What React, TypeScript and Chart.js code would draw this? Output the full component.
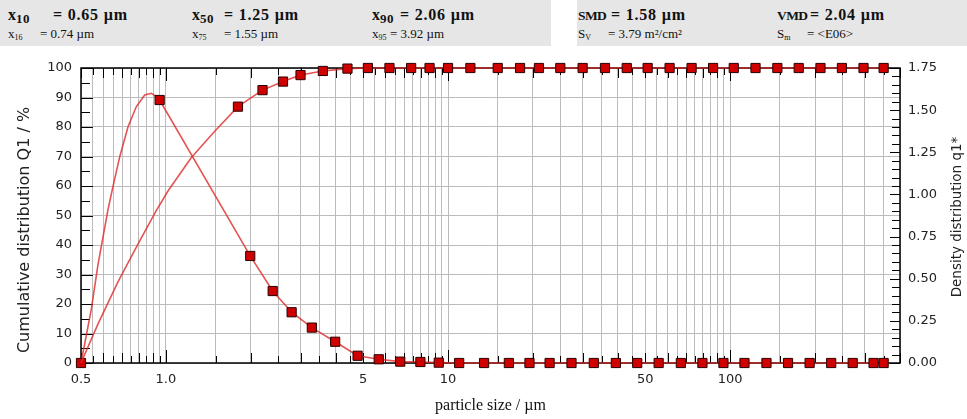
import React, { useEffect, useRef } from 'react';
import { Chart, registerables } from 'chart.js';
Chart.register(...registerables);

// ---- data ----
// upper class limits (µm) and cumulative distribution Q (%)
const classUpper = [1.8, 2.2, 2.6, 3.0, 3.6, 4.4, 5.2, 6.2, 7.4, 8.6, 10, 12, 15, 18, 21, 25, 30, 36, 43, 51, 61, 73, 87, 103, 123, 147, 175, 209, 249, 297, 350];
const cumulativeQ = [86.9, 92.5, 95.4, 97.6, 99.0, 99.8, 100, 100, 100, 100, 100, 100, 100, 100, 100, 100, 100, 100, 100, 100, 100, 100, 100, 100, 100, 100, 100, 100, 100, 100, 100];
// smooth cumulative curve in the first class (no markers)
const cumCurveX = [0.5, 0.574, 0.676, 0.796, 0.922, 1.017, 1.227, 1.481];
const cumCurveQ = [0, 13.2, 27.5, 40.3, 51.5, 58.3, 69.5, 78.3];
// density distribution markers (class mid points) and values
const densMarkX = [0.5, 0.95, 1.99, 2.39, 2.79, 3.29, 3.98, 4.78, 5.68, 6.77, 7.98, 9.27, 10.95, 13.42, 16.43, 19.44, 22.91, 27.39, 32.86, 39.34, 46.83, 55.79, 66.87, 79.75, 94.66, 112.4, 134.5, 160.4, 191.3, 228.1, 271.9, 322.4, 350];
const densMarkQ = [0, 1.56, 0.635, 0.427, 0.301, 0.21, 0.126, 0.043, 0.022, 0.008, 0.006, 0.002, 0, 0, 0, 0, 0, 0, 0, 0, 0, 0, 0, 0, 0, 0, 0, 0, 0, 0, 0, 0, 0];
// smooth density curve in the first class (no markers)
const densCurveX = [0.544, 0.574, 0.623, 0.649, 0.686, 0.734, 0.785, 0.841, 0.888, 0.925];
const densCurveQ = [0.32, 0.58, 0.908, 1.046, 1.224, 1.402, 1.52, 1.59, 1.6, 1.58];

const xTickLabels: [number, string][] = [[0.5, '0.5'], [1, '1.0'], [5, '5'], [10, '10'], [50, '50'], [100, '100']];

const headerRow1 = [
  ['x', '10', '= 0.65 µm'],
  ['x', '50', '= 1.25 µm'],
  ['x', '90', '= 2.06 µm'],
  ['SMD', '', '= 1.58 µm'],
  ['VMD', '', '= 2.04 µm'],
];
const headerRow2 = [
  ['x', '16', '= 0.74 µm'],
  ['x', '75', '= 1.55 µm'],
  ['x', '95', '= 3.92 µm'],
  ['S', 'V', '= 3.79 m²/cm²'],
  ['S', 'm', '= <E06>'],
];
const row1Pos = [[8, 53], [192, 224], [372, 400], [578, 611], [777, 810]];
const row2Pos = [[8, 40], [192, 224], [372, 390], [578, 608], [777, 807]];

const xGridValues: number[] = [];
for (let k = -1; k <= 2; k++) {
  for (let m = 2; m <= 20; m++) {
    const v = parseFloat((m * 0.5 * Math.pow(10, k)).toPrecision(6));
    if (v >= 0.5 && v <= 400 && !xGridValues.includes(v)) xGridValues.push(v);
  }
}
xGridValues.sort((a, b) => a - b);

const GRID = '#bcbcbc';
const LINE = 'rgba(222,40,40,0.8)';

function mantissa(v: number) {
  const e = Math.floor(Math.log10(v) + 1e-9);
  return v / Math.pow(10, e);
}

const framePlugin = {
  id: 'frame',
  beforeDatasetsDraw(chart: any) {
    const { ctx, chartArea, scales } = chart;
    const { left, right, top, bottom } = chartArea;
    ctx.save();
    ctx.strokeStyle = '#000';
    ctx.lineWidth = 1;
    ctx.beginPath();
    for (const v of xGridValues) {
      const px = Math.round(scales.x.getPixelForValue(v)) + 0.5;
      const m = mantissa(v);
      const isDec = Math.abs(m - 1) < 1e-6;
      const isInt = Math.abs(m - Math.round(m)) < 1e-6;
      const len = isDec ? 13 : isInt ? 10 : 7;
      ctx.moveTo(px, bottom);
      ctx.lineTo(px, bottom - len);
      ctx.moveTo(px, top);
      ctx.lineTo(px, top + len);
    }
    for (let q = 0; q <= 100; q += 5) {
      const py = Math.round(scales.y.getPixelForValue(q)) + 0.5;
      const len = q % 10 === 0 ? 12 : 9;
      ctx.moveTo(left, py);
      ctx.lineTo(left + len, py);
    }
    for (let i = 0; i <= 35; i++) {
      const py = Math.round(scales.y1.getPixelForValue(i * 0.05)) + 0.5;
      const len = i % 5 === 0 ? 10 : 8;
      ctx.moveTo(right, py);
      ctx.lineTo(right - len, py);
    }
    ctx.stroke();
    ctx.lineWidth = 1.5;
    ctx.strokeRect(left, top, right - left, bottom - top);
    ctx.restore();
  },
  afterDraw(chart: any) {
    const { ctx } = chart;
    ctx.save();
    ctx.fillStyle = '#222';
    ctx.textAlign = 'center';
    ctx.textBaseline = 'middle';
    ctx.font = '16px "DejaVu Sans"';
    ctx.translate(25, 230);
    ctx.rotate(-Math.PI / 2);
    ctx.fillText('Cumulative distribution Q1 / %', 0, 0);
    ctx.restore();
    ctx.save();
    ctx.fillStyle = '#222';
    ctx.textAlign = 'center';
    ctx.textBaseline = 'middle';
    ctx.font = '13.5px "DejaVu Sans"';
    ctx.translate(957, 217);
    ctx.rotate(-Math.PI / 2);
    ctx.fillText('Density distribution q1*', 0, 0);
    ctx.restore();
  },
};

export default function App() {
  const ref = useRef<HTMLCanvasElement | null>(null);
  useEffect(() => {
    if (!ref.current) return;
    const cumPts = [
      ...cumCurveX.map((x, i) => ({ x, y: cumCurveQ[i], m: false })),
      ...classUpper.map((x, i) => ({ x, y: cumulativeQ[i], m: true })),
    ].sort((a, b) => a.x - b.x);
    const densPts = [
      ...densMarkX.map((x, i) => ({ x, y: densMarkQ[i], m: true })),
      ...densCurveX.map((x, i) => ({ x, y: densCurveQ[i], m: false })),
    ].sort((a, b) => a.x - b.x);
    const tickFont = { family: '"DejaVu Sans"', size: 13 };
    const common = {
      borderColor: LINE,
      borderWidth: 1.6,
      pointStyle: 'rect',
      pointBackgroundColor: '#cf0000',
      pointBorderColor: '#2a0000',
      pointBorderWidth: 1,
      tension: 0,
      clip: false,
      fill: false,
    };
    const chart = new Chart(ref.current, {
      type: 'line',
      data: {
        datasets: [
          {
            ...common,
            label: 'Q',
            yAxisID: 'y',
            data: cumPts.map((p) => ({ x: p.x, y: p.y })),
            pointRadius: cumPts.map((p) => (p.m ? 6.5 : 0)),
          },
          {
            ...common,
            label: 'q',
            yAxisID: 'y1',
            data: densPts.map((p) => ({ x: p.x, y: p.y })),
            pointRadius: densPts.map((p) => (p.m ? 6.5 : 0)),
          },
        ],
      } as any,
      options: {
        animation: false,
        responsive: false,
        devicePixelRatio: 1,
        layout: { padding: { top: 68, left: 0, right: 0, bottom: 0 } },
        plugins: { legend: { display: false }, tooltip: { enabled: false } },
        scales: {
          x: {
            type: 'logarithmic',
            position: 'bottom',
            min: 0.5,
            max: 400,
            afterBuildTicks: (s: any) => {
              s.ticks = xGridValues.map((v) => ({ value: v }));
            },
            afterFit: (s: any) => {
              s.height = 56;
            },
            grid: { color: GRID, lineWidth: 1, drawTicks: false },
            border: { display: false },
            ticks: {
              autoSkip: false,
              maxRotation: 0,
              minRotation: 0,
              padding: 9,
              color: '#222',
              font: tickFont,
              callback: (value: any) => {
                const f = xTickLabels.find(([v]) => Math.abs(v - Number(value)) < 1e-9);
                return f ? f[1] : '';
              },
            },
            title: {
              display: true,
              text: 'particle size / µm',
              color: '#111',
              font: { family: '"Liberation Serif"', size: 16 },
              padding: { top: 0, bottom: 4 },
            },
          },
          y: {
            position: 'left',
            min: 0,
            max: 100,
            afterFit: (s: any) => {
              s.width = 81;
            },
            grid: { color: GRID, lineWidth: 1, drawTicks: false },
            border: { display: false },
            ticks: {
              stepSize: 5,
              padding: 9,
              color: '#222',
              font: tickFont,
              callback: (v: any) => (Number(v) % 10 === 0 ? String(v) : ''),
            },
          },
          y1: {
            position: 'right',
            min: 0,
            max: 1.75,
            afterFit: (s: any) => {
              s.width = 67;
            },
            grid: { display: false, drawTicks: false },
            border: { display: false },
            ticks: {
              stepSize: 0.25,
              padding: 8,
              color: '#222',
              font: tickFont,
              callback: (v: any) => Number(v).toFixed(2),
            },
          },
        },
      } as any,
      plugins: [framePlugin],
    });
    return () => chart.destroy();
  }, []);

  const serif = '"Liberation Serif", "Times New Roman", serif';
  const span = (
    left: number,
    top: number,
    size: number,
    bold: boolean,
    content: React.ReactNode,
    key: string,
    spacing = 0
  ) => (
    <span
      key={key}
      style={{
        position: 'absolute',
        left,
        top,
        fontFamily: serif,
        fontSize: size,
        fontWeight: bold ? 700 : 400,
        lineHeight: 1,
        whiteSpace: 'pre',
        letterSpacing: spacing,
        color: '#111',
      }}
    >
      {content}
    </span>
  );

  return (
    <div style={{ position: 'absolute', left: 0, top: 0, width: 967, height: 419, background: '#fff' }}>
      <div style={{ position: 'absolute', left: 0, top: 0, width: 551, height: 46, background: '#e6e6e6' }} />
      <div style={{ position: 'absolute', left: 577, top: 0, width: 390, height: 46, background: '#e6e6e6' }} />
      {headerRow1.map(([sym, sub, val], i) => (
        <React.Fragment key={'r1' + i}>
          {span(
            row1Pos[i][0],
            sub ? 7 : 8.5,
            sub ? 16 : 13.5,
            true,
            <>
              {sym}
              {sub ? <span style={{ fontSize: 13, position: 'relative', top: 3, letterSpacing: 0.5 }}>{sub}</span> : null}
            </>,
            'r1s' + i,
            sub ? 0 : -0.6
          )}
          {span(row1Pos[i][1], 7, 16, true, val, 'r1v' + i, 0.8)}
        </React.Fragment>
      ))}
      {headerRow2.map(([sym, sub, val], i) => (
        <React.Fragment key={'r2' + i}>
          {span(
            row2Pos[i][0],
            27,
            13,
            false,
            <>
              {sym}
              {sub ? <span style={{ fontSize: 8, position: 'relative', top: 2 }}>{sub}</span> : null}
            </>,
            'r2s' + i
          )}
          {span(row2Pos[i][1], 27, 13, false, val, 'r2v' + i)}
        </React.Fragment>
      ))}
      <canvas ref={ref} width={967} height={419} style={{ position: 'absolute', left: 0, top: 0, width: 967, height: 419 }} />
    </div>
  );
}
